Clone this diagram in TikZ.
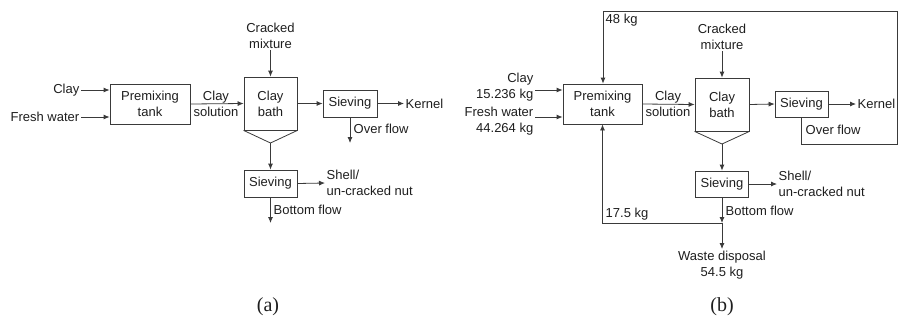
\documentclass[tikz,border=0pt]{standalone}
\usepackage{fontspec}
\setmainfont{Liberation Sans}
\newfontfamily\capfont{Liberation Serif}
\usetikzlibrary{arrows.meta,calc}
\definecolor{ln}{HTML}{3A3A3A}
\definecolor{tx}{HTML}{1E1E1E}
\tikzset{
  lbl/.style={font=\fontsize{13}{16}\selectfont, text=tx, inner sep=1.5pt, align=left},
  boxn/.style={draw=ln, line width=0.8pt, font=\fontsize{13}{16}\selectfont, text=tx, align=center, inner sep=0pt},
  arr/.style={draw=ln, line width=0.8pt, -{Latex[length=6pt,width=5pt]}},
  pln/.style={draw=ln, line width=0.8pt},
  captxt/.style={font=\capfont\fontsize{20}{24}\selectfont, text=tx, inner sep=0pt}
}
\begin{document}
\begin{tikzpicture}[x=1pt,y=-1pt]
\useasboundingbox (0,0) rectangle (898,325);
% ---------------- panel (a) ----------------
\node[boxn, minimum width=80pt, minimum height=40pt] (pm) at (150,104) {Premixing\\tank};
\node[boxn, minimum width=53pt, minimum height=53pt] (cb) at (270.5,103.5) {Clay\\bath};
\coordinate (tip) at (270.5,143);
\draw[pln] (cb.south west) -- (tip) -- (cb.south east);
\node[boxn, minimum width=54pt, minimum height=27pt] (sv1) at (350,103.5) {Sieving};
\node[boxn, minimum width=53pt, minimum height=27pt] (sv2) at (270.5,183.5) {Sieving};

\node[lbl, anchor=east] (clay) at (81,90) {Clay};
\node[lbl, anchor=east] (fw) at (81,117) {Fresh water};
\draw[arr] (clay.east) -- (pm.west |- clay.east);
\draw[arr] (fw.east) -- (pm.west |- fw.east);
\node[lbl, align=center] (cs) at (216,104) {Clay\\solution};
\draw[arr] (pm.east) -- (cb.west);
\node[lbl, align=center] (cm) at (270.5,36) {Cracked\\mixture};
\draw[arr] (cm.south) -- (cb.north);
\draw[arr] (cb.east) -- (sv1.west);
\node[lbl, anchor=west] (kern) at (404,103.5) {Kernel};
\draw[arr] (sv1.east) -- (kern.west);
\coordinate (ofe) at (350,143);
\draw[arr] (sv1.south) -- (ofe);
\node[lbl, anchor=west] (ofl) at (352,129) {Over flow};
\draw[arr] (tip) -- (sv2.north);
\node[lbl, anchor=west] (shell) at (325,183) {Shell/\\un-cracked nut};
\draw[arr] (sv2.east) -- (shell.west);
\coordinate (bfe) at (270.5,223);
\draw[arr] (sv2.south) -- (bfe);
\node[lbl, anchor=west] (bfl) at (272,210) {Bottom flow};
\node[captxt] (capa) at (268,307) {(a)};

% ---------------- panel (b) ----------------
\node[boxn, minimum width=79pt, minimum height=40pt] (pmB) at (602.5,104) {Premixing\\tank};
\node[boxn, minimum width=54pt, minimum height=53pt] (cbB) at (722,104.5) {Clay\\bath};
\coordinate (tipB) at (722,144);
\draw[pln] (cbB.south west) -- (tipB) -- (cbB.south east);
\node[boxn, minimum width=53pt, minimum height=26pt] (sv1B) at (801.5,104) {Sieving};
\node[boxn, minimum width=53pt, minimum height=26pt] (sv2B) at (722,184) {Sieving};

\node[lbl, anchor=east, align=right] (clayB) at (535,87) {Clay\\15.236 kg};
\node[lbl, anchor=east, align=right] (fwB) at (535,121) {Fresh water\\44.264 kg};
\draw[arr] (clayB.east |- 0,90) -- (pmB.west |- 0,90);
\draw[arr] (fwB.east |- 0,117) -- (pmB.west |- 0,117);
\node[lbl, align=center] (csB) at (668,104) {Clay\\solution};
\draw[arr] (pmB.east) -- (cbB.west);
\node[lbl, align=center] (cmB) at (722,37) {Cracked\\mixture};
\draw[arr] (cmB.south) -- (cbB.north);
\draw[arr] (cbB.east) -- (sv1B.west);
\node[lbl, anchor=west] (kernB) at (856,104) {Kernel};
\draw[arr] (sv1B.east) -- (kernB.west);
\node[lbl, anchor=west] (oflB) at (804,130) {Over flow};
\coordinate (rb) at (897,144);
\coordinate (tl) at (603,11);
\draw[arr] (sv1B.south) |- (rb) |- (tl) -- (tl |- pmB.north);
\node[lbl, anchor=west] (w48) at (604,20) {48 kg};
\draw[arr] (tipB) -- (sv2B.north);
\node[lbl, anchor=west] (shellB) at (777,184) {Shell/\\un-cracked nut};
\draw[arr] (sv2B.east) -- (shellB.west);
\coordinate (jn) at (722,223);
\draw[arr] (sv2B.south) -- (jn);
\node[lbl, anchor=west] (bflB) at (724,211) {Bottom flow};
\node[lbl, anchor=west] (w175) at (604,214) {17.5 kg};
\node[lbl, align=center, anchor=north] (waste) at (722,249) {Waste disposal\\54.5 kg};
\draw[arr] (jn) -- (waste.north);
\draw[arr] (jn) -| (pmB.south);
\node[captxt] (capb) at (722,307) {(b)};
\end{tikzpicture}
\end{document}
